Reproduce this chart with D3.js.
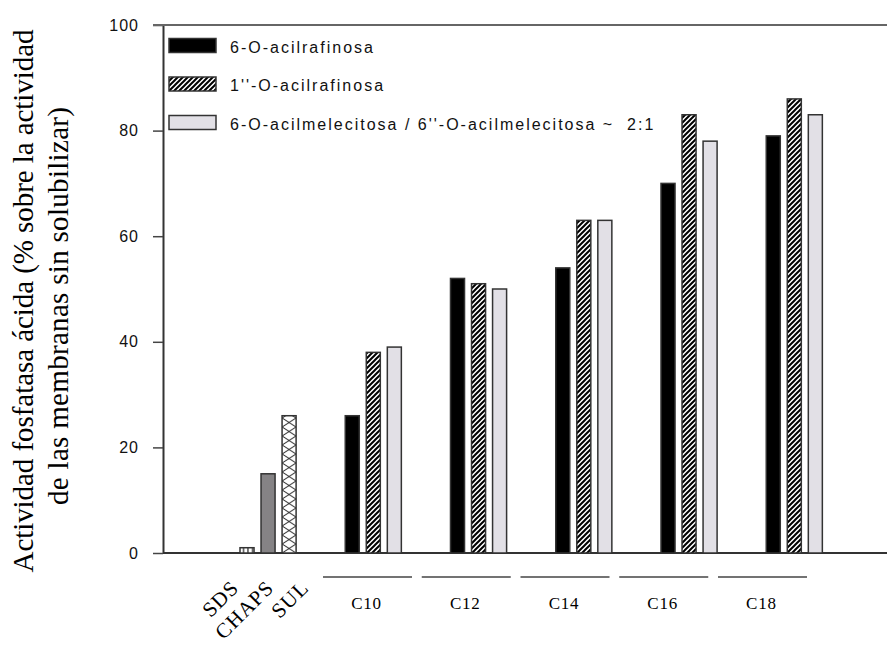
<!DOCTYPE html>
<html><head><meta charset="utf-8">
<script src="https://cdn.jsdelivr.net/npm/d3@7"></script>
<style>
html,body{margin:0;padding:0;background:#fff;}
svg{display:block;}
</style></head>
<body>
<script>
// ---- data ----
const detergents = ["SDS", "CHAPS", "SUL"];
const detergentValues = [1, 15, 26];
const acylGroups = ["C10", "C12", "C14", "C16", "C18"];
const seriesNames = ["6-O-acilrafinosa", "1''-O-acilrafinosa", "6-O-acilmelecitosa / 6''-O-acilmelecitosa ~  2:1"];
const acilrafinosa6 = [26, 52, 54, 70, 79];
const acilrafinosa1 = [38, 51, 63, 83, 86];
const acilmelecitosa = [39, 50, 63, 78, 83];
const yTicks = [0, 20, 40, 60, 80, 100];
const yTitle = ["Actividad fosfatasa ácida (% sobre la actividad", "de las membranas sin solubilizar)"];

const W = 887, H = 648;
const svg = d3.select("body").append("svg").attr("width", W).attr("height", H);
const defs = svg.append("defs");

const y = d3.scaleLinear().domain([0, 100]).range([553, 25]);
const allGroups = ["det"].concat(acylGroups);
const x0 = d3.scaleBand().domain(allGroups).range([240, 240 + 6 * 105.25]).padding(0);
const x1 = d3.scaleBand().domain([0, 1, 2]).range([0, 56.1]).paddingInner(0.333).paddingOuter(0);
const labelX = d3.scaleBand().domain(acylGroups).range([323, 807]).paddingInner(0.0987).paddingOuter(0);
const detLabelX = d3.scalePoint().domain(detergents).range([240, 310]);

const axisLeftX = 163;

// patterns
const diag = defs.append("pattern").attr("id", "diag").attr("patternUnits", "userSpaceOnUse")
  .attr("width", 5).attr("height", 5);
diag.append("rect").attr("width", 5).attr("height", 5).attr("fill", "#fff");
diag.append("path").attr("d", "M-1,6 L6,-1 M-1,1 L1,-1 M4,6 L6,4").attr("stroke", "#000").attr("stroke-width", 2);

const vert = defs.append("pattern").attr("id", "vert").attr("patternUnits", "userSpaceOnUse")
  .attr("x", x0("det") + x1(0)).attr("width", 4.5).attr("height", 10);
vert.append("rect").attr("width", 4.5).attr("height", 10).attr("fill", "#fff");
vert.append("path").attr("d", "M3.5,0 L3.5,10").attr("stroke", "#222").attr("stroke-width", 1.2);

const bw = x1.bandwidth();
const cross = defs.append("pattern").attr("id", "cross").attr("patternUnits", "userSpaceOnUse")
  .attr("x", x0("det") + x1(2)).attr("y", y(0)).attr("width", bw).attr("height", 9);
cross.append("rect").attr("width", bw).attr("height", 9).attr("fill", "#fff");
cross.append("path").attr("d", `M0,0 L${bw},9 M${bw},0 L0,9`).attr("stroke", "#222").attr("stroke-width", 1);

const fills = ["#000", "url(#diag)", "#e2e0e6"];
const detFills = ["url(#vert)", "#858385", "url(#cross)"];
const strokeC = "#333";

// y axis title
const titleG = svg.append("g").attr("font-family", "'Liberation Serif','Times New Roman',serif")
  .attr("font-size", 29).attr("fill", "#000");
titleG.append("text").attr("transform", "translate(33,301) rotate(-90)").attr("text-anchor", "middle")
  .attr("textLength", 543).attr("lengthAdjust", "spacing").text(yTitle[0]);
titleG.append("text").attr("transform", "translate(68,306) rotate(-90)").attr("text-anchor", "middle")
  .attr("textLength", 398).attr("lengthAdjust", "spacing").text(yTitle[1]);

// axes
const yAxis = d3.axisLeft(y).tickValues(yTicks).tickSize(10).tickSizeOuter(0).tickPadding(14);
const gy = svg.append("g").attr("transform", `translate(${axisLeftX},0)`).call(yAxis);
gy.select(".domain").attr("stroke", "#333").attr("stroke-width", 2);
gy.selectAll(".tick line").attr("stroke", "#444").attr("stroke-width", 1.5);
gy.selectAll(".tick text").attr("font-family", "'Liberation Sans',Arial,sans-serif")
  .attr("font-size", 16).attr("letter-spacing", 1).attr("fill", "#111");

// top border and baseline
svg.append("line").attr("x1", axisLeftX - 10).attr("x2", W).attr("y1", y(100)).attr("y2", y(100))
  .attr("stroke", "#666").attr("stroke-width", 2);
svg.append("line").attr("x1", axisLeftX).attr("x2", W).attr("y1", y(0)).attr("y2", y(0))
  .attr("stroke", "#333").attr("stroke-width", 2);

// detergent bars
svg.append("g").selectAll("rect").data(detergentValues).join("rect")
  .attr("x", (d, i) => x0("det") + x1(i))
  .attr("y", d => y(d))
  .attr("width", bw)
  .attr("height", d => y(0) - y(d))
  .attr("fill", (d, i) => detFills[i])
  .attr("stroke", strokeC).attr("stroke-width", 1.5);

// acyl bars
const series = [acilrafinosa6, acilrafinosa1, acilmelecitosa];
series.forEach((vals, s) => {
  svg.append("g").selectAll("rect").data(vals).join("rect")
    .attr("x", (d, i) => x0(acylGroups[i]) + x1(s))
    .attr("y", d => y(d))
    .attr("width", bw)
    .attr("height", d => y(0) - y(d))
    .attr("fill", fills[s])
    .attr("stroke", strokeC).attr("stroke-width", 1.5);
});

// group underline segments and labels
const lab = svg.append("g");
lab.selectAll("line").data(acylGroups).join("line")
  .attr("x1", d => labelX(d)).attr("x2", d => labelX(d) + labelX.bandwidth())
  .attr("y1", 577).attr("y2", 577).attr("stroke", "#444").attr("stroke-width", 1.5);
lab.selectAll("text").data(acylGroups).join("text")
  .attr("x", d => labelX(d) + labelX.bandwidth() / 2 - 1).attr("y", 609)
  .attr("text-anchor", "middle").attr("font-family", "'Liberation Serif','Times New Roman',serif")
  .attr("font-size", 17).attr("letter-spacing", 0.8).text(d => d);

// rotated detergent labels
svg.append("g").selectAll("text").data(detergents).join("text")
  .attr("transform", d => `translate(${detLabelX(d)},589) rotate(-45)`)
  .attr("text-anchor", "end").attr("font-family", "'Liberation Serif','Times New Roman',serif")
  .attr("font-size", 21).attr("letter-spacing", 1).text(d => d);

// legend
const lg = svg.append("g");
const legY = d3.scalePoint().domain(seriesNames).range([45.5, 122.5]);
lg.selectAll("rect").data(seriesNames).join("rect")
  .attr("x", 169).attr("y", d => legY(d) - 7).attr("width", 47).attr("height", 14)
  .attr("fill", (d, i) => fills[i]).attr("stroke", strokeC).attr("stroke-width", 1.5);
lg.selectAll("text").data(seriesNames).join("text")
  .attr("x", 230).attr("y", d => legY(d) + 7)
  .attr("font-family", "'Liberation Sans',Arial,sans-serif").attr("font-size", 16)
  .attr("letter-spacing", 2).style("white-space", "pre").attr("fill", "#111").text(d => d);
</script>
</body></html>
